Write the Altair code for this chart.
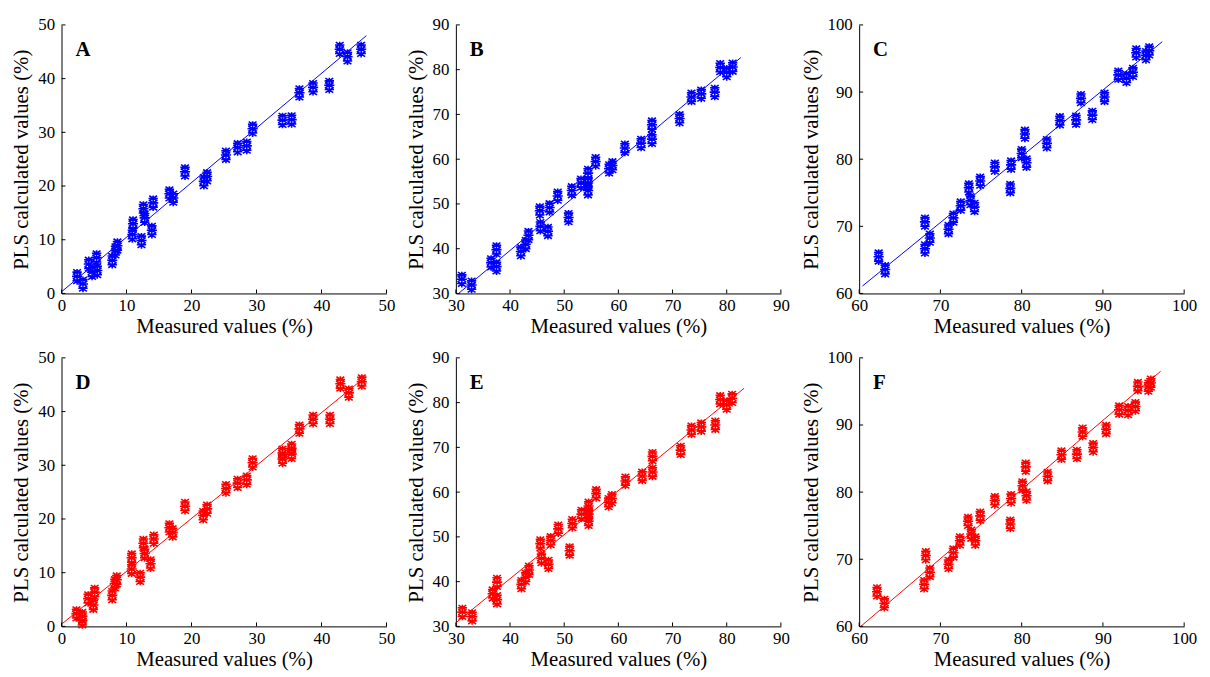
import altair as alt
import pandas as pd

# ---------------- data ----------------
# Panel A (blue) / D (red): range 0-50
a_meas = [2.4, 3.3, 4.2, 4.7, 5.4, 5.5, 7.8, 8.3, 8.6, 10.9, 11.0, 12.3, 12.6, 12.8, 13.9, 14.1,
          16.6, 17.2, 19.0, 21.9, 22.4, 25.3, 27.1, 28.5, 29.4, 34.0, 35.4, 36.6, 38.7, 41.2,
          42.8, 44.0, 46.1]
a_pred = [3.1, 1.7, 5.4, 3.9, 6.6, 4.2, 6.1, 7.9, 8.8, 10.9, 12.9, 9.8, 15.7, 14.0, 11.7, 16.8,
          18.5, 17.7, 22.6, 20.8, 21.7, 25.7, 27.1, 27.4, 30.6, 32.2, 32.3, 37.3, 38.3, 38.7,
          45.4, 44.0, 45.4]
a_fit_x = [0.0, 46.9]
a_fit_y = [0.3, 48.0]

d_meas = [2.3, 3.2, 3.2, 4.1, 4.9, 5.1, 7.8, 8.2, 8.5, 10.8, 10.8, 12.1, 12.6, 12.8, 13.7, 14.2,
          16.6, 17.1, 19.0, 21.8, 22.4, 25.3, 27.1, 28.5, 29.4, 34.0, 34.0, 35.4, 35.4, 36.6,
          38.7, 41.3, 42.9, 44.2, 46.2]
d_pred = [2.3, 1.8, 1.0, 5.1, 3.9, 6.3, 5.7, 7.9, 8.6, 10.6, 12.7, 9.1, 15.4, 13.5, 11.6, 16.2,
          18.3, 17.4, 22.3, 20.6, 21.8, 25.6, 26.6, 27.2, 30.4, 32.2, 31.1, 33.1, 32.0, 36.7,
          38.5, 38.5, 45.1, 43.4, 45.5]
d_fit_x = [0.0, 46.9]
d_fit_y = [0.4, 46.6]

# Panel B (blue) / E (red): range 30-90
b_meas = [31.1, 32.9, 36.5, 37.5, 37.5, 42.0, 42.9, 43.4, 45.5, 45.6, 47.0, 47.3, 48.8, 50.8,
          51.4, 53.1, 54.4, 54.4, 54.4, 55.8, 58.3, 58.9, 61.2, 64.2, 66.2, 66.2, 71.3, 73.5,
          75.3, 77.8, 78.8, 80.0, 81.1]
b_pred = [33.1, 31.8, 36.8, 39.7, 35.9, 39.3, 40.9, 42.9, 48.4, 44.9, 43.8, 49.1, 51.7, 46.9,
          52.9, 54.6, 56.8, 54.6, 52.9, 59.4, 57.8, 58.5, 62.4, 63.5, 67.6, 64.4, 69.0, 73.8,
          74.5, 74.9, 80.4, 79.3, 80.5]
b_fit_x = [30.6, 82.6]
b_fit_y = [30.1, 82.7]

e_meas = [31.2, 33.0, 36.8, 37.6, 37.6, 42.1, 42.9, 43.5, 45.6, 45.8, 47.1, 47.5, 48.9, 51.0,
          51.5, 53.2, 54.5, 54.5, 54.5, 55.9, 58.2, 58.8, 61.3, 64.4, 66.3, 66.3, 71.5, 73.5,
          75.3, 77.9, 78.8, 80.0, 81.0]
e_pred = [33.1, 32.1, 37.2, 39.8, 35.9, 39.3, 40.9, 42.5, 48.4, 45.1, 43.8, 49.1, 51.7, 46.8,
          52.9, 55.0, 56.8, 55.0, 53.4, 59.6, 57.6, 58.5, 62.4, 63.5, 67.9, 64.4, 69.3, 73.8,
          74.5, 74.9, 80.6, 79.4, 80.9]
e_fit_x = [30.0, 83.2]
e_fit_y = [30.8, 83.2]

# Panel C (blue) / F (red): range 60-100
c_meas = [62.4, 63.2, 68.1, 68.1, 68.7, 71.0, 71.6, 72.5, 73.5, 73.7, 74.2, 74.9, 76.7, 78.6,
          78.7, 80.0, 80.4, 80.6, 83.1, 84.7, 86.7, 87.3, 88.7, 90.2, 91.9, 92.9, 93.7, 94.1,
          95.3, 95.7]
c_pred = [65.4, 63.5, 70.6, 66.6, 68.2, 69.5, 71.2, 73.0, 75.7, 73.8, 72.8, 76.7, 78.8, 75.6,
          79.1, 80.8, 83.7, 79.4, 82.3, 85.7, 85.8, 89.0, 86.5, 89.2, 92.5, 92.0, 92.9, 95.8,
          95.4, 96.1]
c_fit_x = [60.4, 97.3]
c_fit_y = [61.1, 97.5]

f_meas = [62.2, 63.1, 68.2, 68.0, 68.7, 71.0, 71.6, 72.4, 73.4, 73.8, 74.3, 74.9, 76.7, 78.6,
          78.7, 80.1, 80.5, 80.6, 83.2, 84.9, 86.8, 87.5, 88.8, 90.4, 92.0, 93.1, 94.0, 94.3,
          95.6, 95.9]
f_pred = [65.1, 63.4, 70.5, 66.2, 68.0, 69.2, 70.9, 72.7, 75.6, 73.7, 72.7, 76.4, 78.7, 75.2,
          79.0, 80.9, 83.7, 79.4, 82.3, 85.5, 85.6, 88.9, 86.6, 89.3, 92.2, 92.1, 92.7, 95.7,
          95.6, 96.2]
f_fit_x = [60.2, 97.1]
f_fit_y = [60.0, 98.0]

ticks_a = [0, 10, 20, 30, 40, 50]
ticks_b = [30, 40, 50, 60, 70, 80, 90]
ticks_c = [60, 70, 80, 90, 100]

x_title = "Measured values (%)"
y_title = "PLS calculated values (%)"

# ---------------- styling ----------------
FONT = "Liberation Serif"
W, H = 328, 271
BLUE = "#0000FF"
RED = "#FF0000"
STAR = ("M0,-1L0,1"
        "M-0.6,-0.6L0.6,-0.6M-0.65,-0.05L0.65,-0.05M-0.6,0.5L0.6,0.5"
        "M-0.5,-0.95L0.5,-0.3M-0.5,-0.3L0.5,-0.95"
        "M-0.55,-0.4L0.55,0.3M-0.55,0.3L0.55,-0.4"
        "M-0.5,0.25L0.5,0.9M-0.5,0.9L0.5,0.25")


def panel(mx, py, fx, fy, color, label, dom, ticks):
    xs = alt.Scale(domain=dom, nice=False, zero=False)
    ys = alt.Scale(domain=dom, nice=False, zero=False)
    xax = alt.Axis(values=ticks, title=x_title, ticks=False, grid=False, labelFlush=False,
                   labelOverlap=False, labelPadding=4, titlePadding=2, format="d")
    yax = alt.Axis(values=ticks, title=y_title, ticks=False, grid=False, labelFlush=False,
                   labelOverlap=False, labelPadding=7, titlePadding=6, format="d")
    pts = pd.DataFrame({"m": mx, "p": py})
    fit = pd.DataFrame({"m": fx, "p": fy})
    tk = pd.DataFrame({"m": ticks, "p": ticks})

    points = alt.Chart(pts).mark_point(
        shape=STAR, size=250, filled=False, strokeWidth=1.6, color=color, opacity=1
    ).encode(x=alt.X("m:Q", scale=xs, axis=xax), y=alt.Y("p:Q", scale=ys, axis=yax))
    line = alt.Chart(fit).mark_line(color=color, strokeWidth=1).encode(
        x=alt.X("m:Q", scale=xs, axis=xax), y=alt.Y("p:Q", scale=ys, axis=yax))
    xt = alt.Chart(tk).mark_rule(color="black", strokeWidth=1).encode(
        x=alt.X("m:Q", scale=xs, axis=xax), y=alt.value(H), y2=alt.value(H - 4))
    yt = alt.Chart(tk).mark_rule(color="black", strokeWidth=1).encode(
        y=alt.Y("p:Q", scale=ys, axis=yax), x=alt.value(0), x2=alt.value(4))
    lab = alt.Chart(pd.DataFrame({"l": [label]})).mark_text(
        font=FONT, fontSize=21, fontWeight="bold", align="left", baseline="alphabetic",
        color="black"
    ).encode(text="l:N", x=alt.value(14), y=alt.value(31))
    return alt.layer(points, line, xt, yt, lab).properties(width=W, height=H)


pA = panel(a_meas, a_pred, a_fit_x, a_fit_y, BLUE, "A", [0, 50], ticks_a)
pB = panel(b_meas, b_pred, b_fit_x, b_fit_y, BLUE, "B", [30, 90], ticks_b)
pC = panel(c_meas, c_pred, c_fit_x, c_fit_y, BLUE, "C", [60, 100], ticks_c)
pD = panel(d_meas, d_pred, d_fit_x, d_fit_y, RED, "D", [0, 50], ticks_a)
pE = panel(e_meas, e_pred, e_fit_x, e_fit_y, RED, "E", [30, 90], ticks_b)
pF = panel(f_meas, f_pred, f_fit_x, f_fit_y, RED, "F", [60, 100], ticks_c)

chart = alt.vconcat(
    alt.hconcat(pA, pB, pC, spacing=10),
    alt.hconcat(pD, pE, pF, spacing=10),
    spacing=13,
).properties(
    padding={"left": 3, "top": 5, "right": 5, "bottom": 5},
    background="white",
).configure_view(stroke=None).configure_axis(
    domainColor="black", domainWidth=1,
    labelFont=FONT, labelFontSize=17, labelColor="black",
    titleFont=FONT, titleFontSize=21, titleFontWeight="normal", titleColor="black",
)

chart.save("out.html", embed_options={"renderer": "svg", "actions": False})
